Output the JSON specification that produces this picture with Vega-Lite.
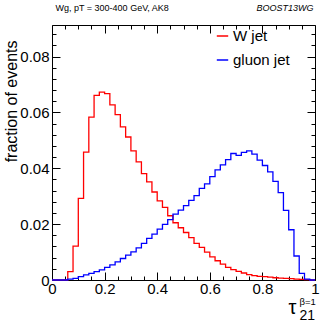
{
  "$schema": "https://vega.github.io/schema/vega-lite/v6.json",
  "width": 263,
  "height": 255,
  "autosize": "none",
  "padding": {"left": 52, "top": 25, "right": 17, "bottom": 42},
  "background": "white",
  "config": {
    "view": {"stroke": "#000", "strokeWidth": 1},
    "font": "Liberation Sans",
    "axis": {"domain": false, "grid": false, "tickColor": "#000", "labelColor": "#000", "titleColor": "#000", "labelFont": "Liberation Sans", "titleFont": "Liberation Sans", "titleFontWeight": "normal", "tickWidth": 1}
  },
  "data": {"values": [
    {"x":0,"v":0,"s":"W jet"},{"x":0.02,"v":0,"s":"W jet"},{"x":0.04,"v":0,"s":"W jet"},{"x":0.06,"v":0.003,"s":"W jet"},{"x":0.08,"v":0.0121,"s":"W jet"},
    {"x":0.1,"v":0.0292,"s":"W jet"},{"x":0.12,"v":0.0458,"s":"W jet"},{"x":0.14,"v":0.0583,"s":"W jet"},{"x":0.16,"v":0.0661,"s":"W jet"},{"x":0.18,"v":0.0673,"s":"W jet"},
    {"x":0.2,"v":0.0667,"s":"W jet"},{"x":0.22,"v":0.0627,"s":"W jet"},{"x":0.24,"v":0.0592,"s":"W jet"},{"x":0.26,"v":0.0548,"s":"W jet"},{"x":0.28,"v":0.0512,"s":"W jet"},
    {"x":0.3,"v":0.0462,"s":"W jet"},{"x":0.32,"v":0.0423,"s":"W jet"},{"x":0.34,"v":0.0381,"s":"W jet"},{"x":0.36,"v":0.0351,"s":"W jet"},{"x":0.38,"v":0.0315,"s":"W jet"},
    {"x":0.4,"v":0.0283,"s":"W jet"},{"x":0.42,"v":0.026,"s":"W jet"},{"x":0.44,"v":0.023,"s":"W jet"},{"x":0.46,"v":0.0205,"s":"W jet"},{"x":0.48,"v":0.0187,"s":"W jet"},
    {"x":0.5,"v":0.017,"s":"W jet"},{"x":0.52,"v":0.0152,"s":"W jet"},{"x":0.54,"v":0.0131,"s":"W jet"},{"x":0.56,"v":0.0117,"s":"W jet"},{"x":0.58,"v":0.01,"s":"W jet"},
    {"x":0.6,"v":0.0083,"s":"W jet"},{"x":0.62,"v":0.0069,"s":"W jet"},{"x":0.64,"v":0.0057,"s":"W jet"},{"x":0.66,"v":0.0045,"s":"W jet"},{"x":0.68,"v":0.0037,"s":"W jet"},
    {"x":0.7,"v":0.0031,"s":"W jet"},{"x":0.72,"v":0.0025,"s":"W jet"},{"x":0.74,"v":0.0019,"s":"W jet"},{"x":0.76,"v":0.0016,"s":"W jet"},{"x":0.78,"v":0.0013,"s":"W jet"},
    {"x":0.8,"v":0.0012,"s":"W jet"},{"x":0.82,"v":0.001,"s":"W jet"},{"x":0.84,"v":0.0008,"s":"W jet"},{"x":0.86,"v":0.0007,"s":"W jet"},{"x":0.88,"v":0.0006,"s":"W jet"},
    {"x":0.9,"v":0.0005,"s":"W jet"},{"x":0.92,"v":0.0003,"s":"W jet"},{"x":0.94,"v":0.0002,"s":"W jet"},{"x":0.96,"v":0.0001,"s":"W jet"},{"x":0.98,"v":0,"s":"W jet"},
    {"x":1,"v":0,"s":"W jet"},
    {"x":0,"v":0,"s":"gluon jet"},{"x":0.02,"v":0,"s":"gluon jet"},{"x":0.04,"v":0,"s":"gluon jet"},{"x":0.06,"v":0.0003,"s":"gluon jet"},{"x":0.08,"v":0.0006,"s":"gluon jet"},
    {"x":0.1,"v":0.0012,"s":"gluon jet"},{"x":0.12,"v":0.0018,"s":"gluon jet"},{"x":0.14,"v":0.0024,"s":"gluon jet"},{"x":0.16,"v":0.003,"s":"gluon jet"},{"x":0.18,"v":0.0036,"s":"gluon jet"},
    {"x":0.2,"v":0.0045,"s":"gluon jet"},{"x":0.22,"v":0.0054,"s":"gluon jet"},{"x":0.24,"v":0.0065,"s":"gluon jet"},{"x":0.26,"v":0.0077,"s":"gluon jet"},{"x":0.28,"v":0.0089,"s":"gluon jet"},
    {"x":0.3,"v":0.0101,"s":"gluon jet"},{"x":0.32,"v":0.0115,"s":"gluon jet"},{"x":0.34,"v":0.0131,"s":"gluon jet"},{"x":0.36,"v":0.0149,"s":"gluon jet"},{"x":0.38,"v":0.0164,"s":"gluon jet"},
    {"x":0.4,"v":0.0182,"s":"gluon jet"},{"x":0.42,"v":0.0199,"s":"gluon jet"},{"x":0.44,"v":0.0216,"s":"gluon jet"},{"x":0.46,"v":0.0236,"s":"gluon jet"},{"x":0.48,"v":0.025,"s":"gluon jet"},
    {"x":0.5,"v":0.0266,"s":"gluon jet"},{"x":0.52,"v":0.0285,"s":"gluon jet"},{"x":0.54,"v":0.0302,"s":"gluon jet"},{"x":0.56,"v":0.0328,"s":"gluon jet"},{"x":0.58,"v":0.0344,"s":"gluon jet"},
    {"x":0.6,"v":0.037,"s":"gluon jet"},{"x":0.62,"v":0.0394,"s":"gluon jet"},{"x":0.64,"v":0.0412,"s":"gluon jet"},{"x":0.66,"v":0.0431,"s":"gluon jet"},{"x":0.68,"v":0.0453,"s":"gluon jet"},
    {"x":0.7,"v":0.0446,"s":"gluon jet"},{"x":0.72,"v":0.0457,"s":"gluon jet"},{"x":0.74,"v":0.0462,"s":"gluon jet"},{"x":0.76,"v":0.0451,"s":"gluon jet"},{"x":0.78,"v":0.0429,"s":"gluon jet"},
    {"x":0.8,"v":0.041,"s":"gluon jet"},{"x":0.82,"v":0.0387,"s":"gluon jet"},{"x":0.84,"v":0.0353,"s":"gluon jet"},{"x":0.86,"v":0.0313,"s":"gluon jet"},{"x":0.88,"v":0.0249,"s":"gluon jet"},
    {"x":0.9,"v":0.018,"s":"gluon jet"},{"x":0.92,"v":0.0086,"s":"gluon jet"},{"x":0.94,"v":0.0024,"s":"gluon jet"},{"x":0.96,"v":0.0003,"s":"gluon jet"},{"x":0.98,"v":0,"s":"gluon jet"},
    {"x":1,"v":0,"s":"gluon jet"}
  ]},
  "resolve": {"axis": {"x": "independent", "y": "independent"}},
  "layer": [
    {
      "mark": {"type": "line", "interpolate": "step-after", "strokeWidth": 1.3},
      "encoding": {
        "x": {"field": "x", "type": "quantitative", "scale": {"domain": [0, 1], "nice": false},
          "axis": {"orient": "bottom", "values": [0, 0.2, 0.4, 0.6, 0.8, 1], "format": ".1~f", "tickSize": -8, "labelPadding": 9, "labelFontSize": 15, "labelFlush": false,
            "title": "τ", "titleFontSize": 20, "titleX": 236, "titleY": 33, "titleAlign": "left", "titleBaseline": "alphabetic", "titleAnchor": null}},
        "y": {"field": "v", "type": "quantitative", "scale": {"domain": [0, 0.0913], "nice": false, "zero": true},
          "axis": {"orient": "left", "values": [0, 0.02, 0.04, 0.06, 0.08], "format": ".2~f", "tickSize": -8, "labelPadding": 11, "labelFontSize": 15, "labelFlush": false,
            "title": "fraction of events", "titleFontSize": 16, "titleX": -36, "titleY": 15, "titleAngle": -90, "titleAlign": "right", "titleBaseline": "alphabetic"}},
        "color": {"field": "s", "type": "nominal", "scale": {"domain": ["W jet", "gluon jet"], "range": ["#ff0000", "#0000ff"]},
          "legend": {"orient": "none", "legendX": 163, "legendY": 3.5, "title": null, "padding": 0, "symbolType": "stroke", "symbolSize": 130, "symbolStrokeWidth": 1.5, "labelFontSize": 15, "labelFont": "Liberation Sans", "labelColor": "#000", "labelOffset": 3, "rowPadding": 8}}
      }
    },
    {
      "mark": {"type": "point", "opacity": 0},
      "encoding": {
        "x": {"field": "x", "type": "quantitative", "scale": {"domain": [0, 1], "nice": false},
          "axis": {"orient": "bottom", "values": [0.05, 0.1, 0.15, 0.25, 0.3, 0.35, 0.45, 0.5, 0.55, 0.65, 0.7, 0.75, 0.85, 0.9, 0.95], "tickSize": -4, "labels": false,
            "title": "21", "titleFontSize": 14, "titleX": 247, "titleY": 39, "titleAlign": "left", "titleBaseline": "alphabetic"}},
        "y": {"field": "v", "type": "quantitative", "scale": {"domain": [0, 0.0913], "nice": false},
          "axis": {"orient": "left", "values": [0.004, 0.008, 0.012, 0.016, 0.024, 0.028, 0.032, 0.036, 0.044, 0.048, 0.052, 0.056, 0.064, 0.068, 0.072, 0.076, 0.084, 0.088], "tickSize": -4, "labels": false, "title": null}}
      }
    },
    {
      "mark": {"type": "point", "opacity": 0},
      "encoding": {
        "x": {"field": "x", "type": "quantitative", "scale": {"domain": [0, 1], "nice": false},
          "axis": {"orient": "top", "values": [0, 0.2, 0.4, 0.6, 0.8, 1], "tickSize": -8, "labels": false,
            "title": "Wg, pT = 300-400 GeV, AK8", "titleFontSize": 9, "titleX": 3, "titleY": -14.5, "titleAlign": "left", "titleBaseline": "alphabetic"}},
        "y": {"field": "v", "type": "quantitative", "scale": {"domain": [0, 0.0913], "nice": false},
          "axis": {"orient": "right", "values": [0, 0.02, 0.04, 0.06, 0.08], "tickSize": -8, "labels": false,
            "title": "β=1", "titleFontSize": 9.5, "titleAngle": 0, "titleX": -16, "titleY": 279, "titleAlign": "left", "titleBaseline": "alphabetic"}}
      }
    },
    {
      "mark": {"type": "point", "opacity": 0},
      "encoding": {
        "x": {"field": "x", "type": "quantitative", "scale": {"domain": [0, 1], "nice": false},
          "axis": {"orient": "top", "values": [0.05, 0.1, 0.15, 0.25, 0.3, 0.35, 0.45, 0.5, 0.55, 0.65, 0.7, 0.75, 0.85, 0.9, 0.95], "tickSize": -4, "labels": false,
            "title": "BOOST13WG", "titleFontSize": 9, "titleFontStyle": "italic", "titleX": 261, "titleY": -14.5, "titleAlign": "right", "titleBaseline": "alphabetic"}},
        "y": {"field": "v", "type": "quantitative", "scale": {"domain": [0, 0.0913], "nice": false},
          "axis": {"orient": "right", "values": [0.004, 0.008, 0.012, 0.016, 0.024, 0.028, 0.032, 0.036, 0.044, 0.048, 0.052, 0.056, 0.064, 0.068, 0.072, 0.076, 0.084, 0.088], "tickSize": -4, "labels": false, "title": null}}
      }
    }
  ]
}
